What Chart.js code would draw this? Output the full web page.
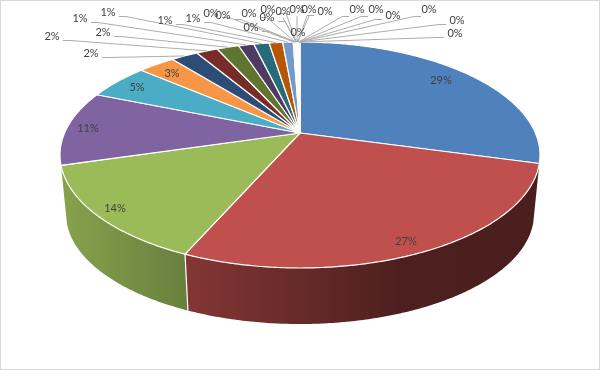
<!DOCTYPE html>
<html>
<head>
<meta charset="utf-8">
<script src="https://cdn.jsdelivr.net/npm/chart.js@4/dist/chart.umd.min.js"></script>
<style>
html, body { margin: 0; padding: 0; background: #fff; }
canvas { display: block; }
</style>
</head>
<body>
<canvas id="pie3d" width="600" height="370"></canvas>
<script>
// slice shares
var mainShares = [29.3, 27.3, 13.9, 10.7, 5.1, 3.0, 2.2, 1.75, 1.8, 1.25, 1.25, 1.1, 0.85];
var tinyShares = [0.12, 0.03, 0.03, 0.03, 0.03, 0.03, 0.03, 0.02, 0.03, 0.02, 0.03, 0.03, 0.02, 0.03, 0.02, 0.03, 0.02];
var shares = mainShares.concat(tinyShares);
var categories = shares.map(function(v, i) { return 'Item ' + (i + 1); });

var palette = ['#4f81bd', '#c0504d', '#9bbb59', '#8064a2', '#4bacc6', '#f79646',
    '#2c4d75', '#772c2a', '#5f7530', '#4d3b62', '#276a7c', '#b65708',
    '#729aca', '#cd7371', '#afc97a', '#9983b5', '#6fbdd1', '#f9ab6b'];

// where each percent label sits
var labelSpots = [[441, 80], [406, 241], [115, 208], [88, 128], [137, 87], [172, 73],
    [91, 53], [52, 36], [103, 32], [80, 18], [108, 12], [165, 20], [193, 18],
    [211, 13], [223, 15], [249, 13], [251, 27], [267, 17], [268, 9], [283, 11], [297, 9],
    [298, 32], [309, 9], [325, 11], [357, 9], [376, 9], [393, 15], [429, 9], [457, 20], [455, 33]];

// perspective of the disc
var cx = 300, topY = 133, wallDrop = 59.4, wallScale = 0.975;
var radX = 235.4, radY = 108.7, tilt = 0.1947;

function project(a, r, bottom) {
    var u = Math.cos(a) * r, v = -Math.sin(a) * r;
    var w = 1 + tilt * v;
    var s = bottom ? wallScale : 1;
    return {
        x: cx + s * radX * u / w,
        y: topY + (bottom ? wallDrop : 0) - s * radY * v / w
    };
}

function hexRgb(h) {
    return [parseInt(h.substr(1, 2), 16), parseInt(h.substr(3, 2), 16), parseInt(h.substr(5, 2), 16)];
}

// side wall gets darker to the right
var shadeStops = [[60, 0.87], [187, 0.68], [300, 0.53], [400, 0.4], [545, 0.38]];
function wallFill(ctx, col) {
    var g = ctx.createLinearGradient(60, 0, 545, 0);
    var c = hexRgb(col);
    shadeStops.forEach(function(s) {
        g.addColorStop((s[0] - 60) / 485, 'rgb(' + Math.round(c[0] * s[1]) + ',' + Math.round(c[1] * s[1]) + ',' + Math.round(c[2] * s[1]) + ')');
    });
    return g;
}

function tracePart(ctx, from, to, bottom, first) {
    var n = Math.max(2, Math.ceil(Math.abs(to - from) / 0.01));
    for (var i = 0; i <= n; i++) {
        var p = project(from + (to - from) * i / n, 1, bottom);
        if (first && i == 0) ctx.moveTo(p.x, p.y);
        else ctx.lineTo(p.x, p.y);
    }
}

var pie3dPlugin = {
    id: 'pie3d',
    beforeDatasetsDraw: function(chart) {
        var ctx = chart.ctx;
        var arcs = chart.getDatasetMeta(0).data;
        var total = shares.reduce(function(a, b) { return a + b; }, 0);

        ctx.save();
        ctx.strokeStyle = '#d9d9d9';
        ctx.lineWidth = 1;
        ctx.strokeRect(0.5, 0.5, 599, 369);

        // walls, only red and green show
        var wallFrom = arcs[1].startAngle, wallTo = arcs[2].endAngle;
        arcs.forEach(function(arc, i) {
            var from = Math.max(arc.startAngle, wallFrom);
            var to = Math.min(arc.endAngle, wallTo);
            if (to <= from) return;
            ctx.beginPath();
            tracePart(ctx, from, to, false, true);
            tracePart(ctx, to, from, true, false);
            ctx.closePath();
            ctx.fillStyle = wallFill(ctx, arc.options.backgroundColor);
            ctx.fill();
        });
        var a = project(arcs[1].endAngle, 1, false), b = project(arcs[1].endAngle, 1, true);
        ctx.beginPath();
        ctx.moveTo(a.x, a.y);
        ctx.lineTo(b.x, b.y);
        ctx.strokeStyle = '#fff';
        ctx.lineWidth = 1.2;
        ctx.stroke();

        // top face
        arcs.forEach(function(arc) {
            var c = project(0, 0, false);
            ctx.beginPath();
            ctx.moveTo(c.x, c.y);
            tracePart(ctx, arc.startAngle, arc.endAngle, false, false);
            ctx.closePath();
            ctx.fillStyle = arc.options.backgroundColor;
            ctx.fill();
            ctx.strokeStyle = '#fff';
            ctx.lineWidth = 1.2;
            ctx.lineJoin = 'round';
            ctx.stroke();
        });

        // leader lines for the small slices: short stub, then on to the rim
        ctx.strokeStyle = '#adadad';
        ctx.lineWidth = 1;
        arcs.forEach(function(arc, i) {
            if (i < 6) return;
            var spot = labelSpots[i];
            var end = project((arc.startAngle + arc.endAngle) / 2, 1, false);
            var dx = end.x - spot[0];
            ctx.beginPath();
            if (Math.abs(dx) > 20) {
                var side = dx > 0 ? 1 : -1;
                var sy = Math.round(spot[1] + (spot[1] < 11 && side < 0 ? 7 : 4)) + 0.5;
                var edge = spot[1] < 11 && side < 0 ? 8 : 11;
                ctx.moveTo(spot[0] + side * edge, sy);
                ctx.lineTo(spot[0] + side * (edge + 7), sy);
            } else {
                ctx.moveTo(spot[0], spot[1] + 7);
            }
            ctx.lineTo(end.x, end.y);
            ctx.stroke();
        });

        // percent labels
        ctx.font = '11px Lato';
        ctx.fillStyle = '#404040';
        ctx.textAlign = 'center';
        ctx.textBaseline = 'middle';
        arcs.forEach(function(arc, i) {
            ctx.fillText(Math.round(shares[i] / total * 100) + '%', labelSpots[i][0], labelSpots[i][1]);
        });
        ctx.restore();
        return false;
    }
};

var chart = new Chart(document.getElementById('pie3d').getContext('2d'), {
    type: 'pie',
    data: {
        labels: categories,
        datasets: [{
            data: shares,
            backgroundColor: shares.map(function(v, i) { return palette[i % palette.length]; })
        }]
    },
    options: {
        responsive: false,
        animation: false,
        plugins: { legend: { display: false }, tooltip: { enabled: false } }
    },
    plugins: [pie3dPlugin]
});
</script>
</body>
</html>
